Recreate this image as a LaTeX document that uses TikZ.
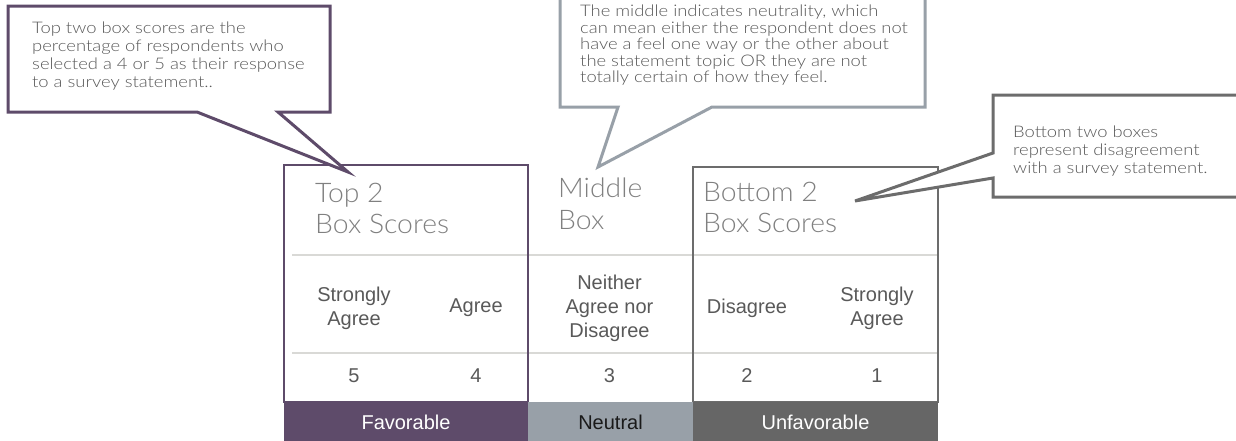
\documentclass[tikz,border=0pt]{standalone}
\usepackage{fontspec}
\setmainfont{Liberation Sans}
\IfFontExistsTF{Lato Light}{%
  \newfontfamily\thinfont{Lato Light}[FakeStretch=1.05]%
  \newfontfamily\calloutfont{Lato Light}[FakeStretch=1.15]%
}{%
  \newfontfamily\thinfont{Open Sans}%
  \newfontfamily\calloutfont{Open Sans}%
}
\definecolor{favcol}{RGB}{94,75,106}
\definecolor{neucol}{RGB}{152,160,168}
\definecolor{unfcol}{RGB}{102,102,102}
\definecolor{boxgray}{RGB}{108,108,108}
\definecolor{sepcol}{RGB}{217,217,214}
\definecolor{txtcol}{RGB}{89,89,89}
\definecolor{titlecol}{RGB}{128,128,128}
\definecolor{darktxt}{RGB}{26,26,26}
\tikzset{
  barnode/.style={minimum height=41pt, inner sep=0pt, font=\fontsize{20}{24}\selectfont, text=white},
  groupbox/.style={line width=2pt, inner sep=0pt},
  seprule/.style={draw=sepcol, line width=2pt},
  cell/.style={align=center, font=\fontsize{20}{24}\selectfont, text=txtcol, inner sep=0pt},
  titletext/.style={anchor=base west, inner sep=0pt, font=\thinfont\fontsize{27}{31}\selectfont, text=titlecol},
  callouttext/.style={anchor=base west, inner sep=0pt, text=txtcol},
  callout/.style={line width=3pt, fill=white, line join=miter},
}
\begin{document}
\begin{tikzpicture}[x=1pt,y=-1pt]
\useasboundingbox (0,0) rectangle (1236,440);
% separators
\draw[seprule] (292,255) -- (937,255);
\draw[seprule] (292,353) -- (937,353);
% group boxes
\node[groupbox, draw=favcol, minimum width=244pt, minimum height=237pt] (topbox) at (406,283.5) {};
\node[groupbox, draw=boxgray, minimum width=245pt, minimum height=235pt] (botbox) at (815.5,284.5) {};
% bars
\node[barnode, fill=favcol, minimum width=244pt] (fav) at (406,422.5) {Favorable};
\node[barnode, fill=neucol, minimum width=165pt, text=darktxt] (neu) at (610.5,422.5) {Neutral};
\node[barnode, fill=unfcol, minimum width=245pt] (unf) at (815.5,422.5) {Unfavorable};
% cells
\node[cell] (c5) at (354,308) {Strongly\\Agree};
\node[cell] (c4) at (476,308) {Agree};
\node[cell] (c3) at (609.5,308) {Neither\\Agree nor\\Disagree};
\node[cell] (c2) at (747,308) {Disagree};
\node[cell] (c1) at (877,308) {Strongly\\Agree};
\node[cell] (n5) at (354,376) {5};
\node[cell] (n4) at (476,376) {4};
\node[cell] (n3) at (609.5,376) {3};
\node[cell] (n2) at (747,376) {2};
\node[cell] (n1) at (877,376) {1};
% titles
\node[titletext] (t1a) at (315,202) {Top 2};
\node[titletext] (t1b) at (315,233) {Box Scores};
\node[titletext] (t2a) at (558,197) {Middle};
\node[titletext] (t2b) at (558,229) {Box};
\node[titletext] (t3a) at (703,201) {Bottom 2};
\node[titletext] (t3b) at (703,232) {Box Scores};
% callouts
\coordinate (ltip) at (348,172);
\draw[callout, draw=favcol] (8,6) -- (330,6) -- (330,112) -- (278,112) -- (ltip) -- (197,112) -- (8,112) -- cycle;
\coordinate (mtip) at (598,167);
\draw[callout, draw=neucol] (560,-10) -- (925,-10) -- (925,107) -- (712,107) -- (mtip) -- (618,107) -- (560,107) -- cycle;
\coordinate (rtip) at (855,201);
\draw[callout, draw=boxgray] (993,95) -- (1250,95) -- (1250,197) -- (993,197) -- (993,178) -- (rtip) -- (993,153) -- cycle;
\node[callouttext, font=\calloutfont\fontsize{16}{18.3}\selectfont] (ltext) at (32,33)
  {\vtop{\hbox{Top two box scores are the}\hbox{percentage of respondents who}\hbox{selected a 4 or 5 as their response}\hbox{to a survey statement..}}};
\node[callouttext, font=\calloutfont\fontsize{16}{16.5}\selectfont] (mtext) at (580,16.5)
  {\vtop{\hbox{The middle indicates neutrality, which}\hbox{can mean either the respondent does not}\hbox{have a feel one way or the other about}\hbox{the statement topic OR they are not}\hbox{totally certain of how they feel.}}};
\node[callouttext, font=\calloutfont\fontsize{16}{18.3}\selectfont] (rtext) at (1013,137)
  {\vtop{\hbox{Bottom two boxes}\hbox{represent disagreement}\hbox{with a survey statement.}}};
\end{tikzpicture}
\end{document}
